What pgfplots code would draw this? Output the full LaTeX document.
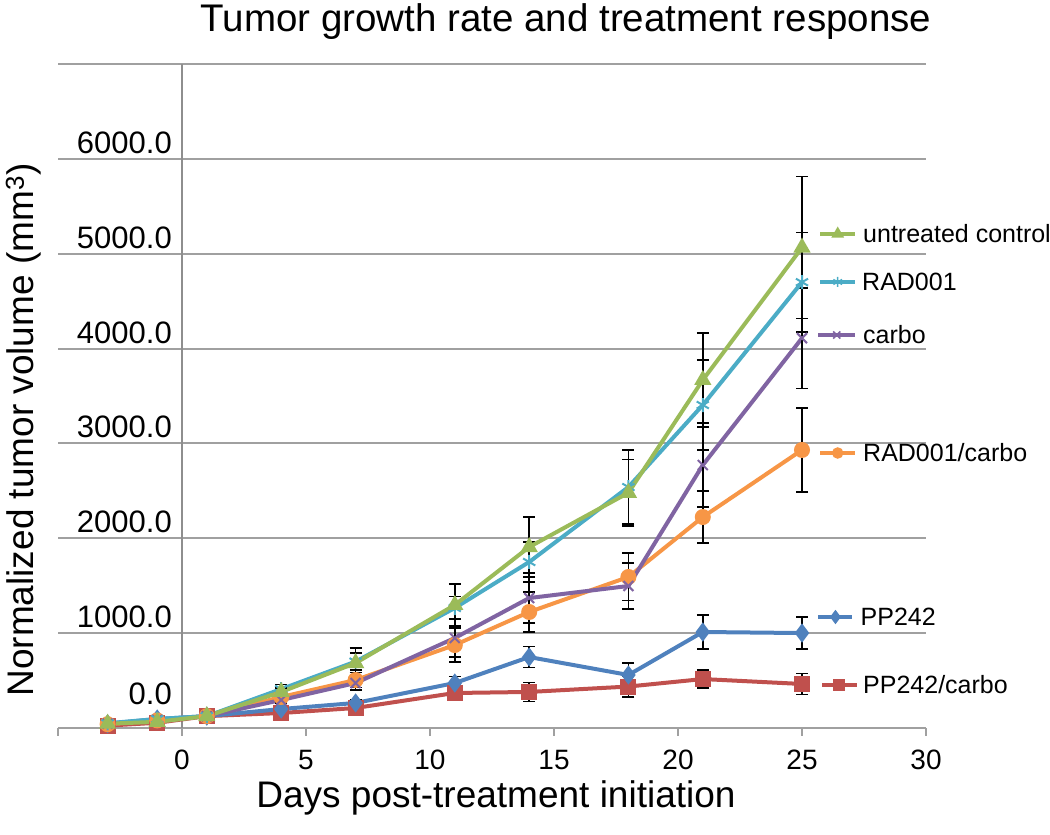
\documentclass[border=0pt]{standalone}
\usepackage{fontspec}
\setmainfont{Liberation Sans}
\usepackage{pgfplots}
\pgfplotsset{compat=1.18}
\usepackage{pgfplotstable}
\definecolor{cgreen}{HTML}{9BBB59}
\definecolor{cteal}{HTML}{4BACC6}
\definecolor{cpurple}{HTML}{8064A2}
\definecolor{corange}{HTML}{F79646}
\definecolor{cblue}{HTML}{4F81BD}
\definecolor{cred}{HTML}{C0504D}
\definecolor{gridgray}{HTML}{A0A0A0}
\definecolor{axgray}{HTML}{8E8E8E}

\pgfplotstableread[row sep=\\]{
x g ge t te c ce o oe b be r re\\
-3 45 20 50 20 45 15 40 15 45 15 25 15\\
-1 65 20 95 20 85 15 80 15 95 15 55 15\\
1 125 15 125 15 125 10 125 10 125 10 125 10\\
4 380 40 410 50 295 30 327 30 200 25 158 20\\
7 685 160 700 90 474 75 506 80 264 30 211 30\\
11 1297 220 1265 120 949 200 875 180 474 70 369 50\\
14 1908 316 1750 210 1370 265 1223 210 748 110 380 100\\
18 2480 350 2540 390 1497 240 1592 250 559 125 437 110\\
21 3669 495 3405 475 2772 443 2224 275 1012 180 516 95\\
25 5065 750 4700 525 4110 530 2931 440 1001 170 464 110\\
}\datatable

\pgfplotsset{
  eb/.style={error bars/.cd, y dir=both, y explicit,
    error bar style={black, line width=1.6pt, solid},
    error mark options={rotate=90, black, mark size=6pt, line width=1.6pt}},
  ser/.style={color=#1, line width=4pt, mark options={solid, fill=#1, draw=#1, line width=2pt}},
  leg/.style={color=#1, line width=4pt, mark indices={2}, forget plot, mark options={solid, fill=#1, draw=#1, line width=1.5pt}},
}

\begin{document}
\begin{tikzpicture}
\path[use as bounding box] (0,0) rectangle (1050pt,835pt);
\begin{axis}[
  at={(58pt,107pt)}, anchor=south west, scale only axis,
  width=868pt, height=664pt,
  xmin=-5, xmax=30, ymin=0, ymax=7000,
  axis x line=bottom, axis y line=left,
  x axis line style={-, draw=gridgray, line width=2pt},
  y axis line style={-, draw=none},
  xtick={-5,0,5,10,15,20,25,30}, xticklabels={{},0,5,10,15,20,25,30},
  extra x ticks={0}, extra x tick labels={},
  extra x tick style={grid=major, major grid style={draw=axgray, line width=2pt}, tick style={draw=none}},
  ytick={0,1000,2000,3000,4000,5000,6000,7000},
  yticklabels={\raisebox{18pt}{0.0},1000.0,2000.0,3000.0,4000.0,5000.0,6000.0,{}},
  ymajorgrids, grid style={draw=gridgray, line width=2pt},
  tick align=outside, major tick length=8pt,
  xtick style={draw=gridgray, line width=2pt},
  ytick style={draw=none},
  xticklabel style={font=\fontsize{28}{30}\selectfont, anchor=north, inner sep=0pt, yshift=-14pt},
  yticklabel style={font=\fontsize{31}{33}\selectfont, anchor=south east, inner sep=0pt, xshift=122pt, yshift=5pt},
  /pgf/number format/assume math mode=true,
  clip=false,
]
\addplot[ser=cred, mark=square*, mark size=7pt, eb] table[x=x, y=r, y error=re] {\datatable};
\addplot[ser=cblue, mark=diamond*, mark size=8pt, eb] table[x=x, y=b, y error=be] {\datatable};
\addplot[ser=corange, mark=*, mark size=7pt, eb] table[x=x, y=o, y error=oe] {\datatable};
\addplot[ser=cpurple, mark=x, mark size=7pt, eb] table[x=x, y=c, y error=ce] {\datatable};
\addplot[ser=cteal, mark=asterisk, mark size=7pt, eb] table[x=x, y=t, y error=te] {\datatable};
\addplot[ser=cgreen, mark=triangle*, mark size=8pt, eb] table[x=x, y=g, y error=ge] {\datatable};

% series labels at the right
\addplot[leg=cgreen, mark=triangle*, mark size=6pt] coordinates {(25.73,5208) (26.44,5208) (27.14,5208)};
\addplot[leg=cteal, mark=asterisk, mark size=5pt] coordinates {(25.73,4702) (26.44,4702) (27.14,4702)};
\addplot[leg=cpurple, mark=x, mark size=5pt] coordinates {(25.65,4143) (26.4,4143) (27.14,4143)};
\addplot[leg=corange, mark=*, mark size=5pt] coordinates {(25.73,2899) (26.44,2899) (27.14,2899)};
\addplot[leg=cblue, mark=diamond*, mark size=6pt] coordinates {(25.65,1170) (26.35,1170) (27.0,1170)};
\addplot[leg=cred, mark=square*, mark size=5pt] coordinates {(25.81,453) (26.5,453) (27.2,453)};

\begin{scope}[every node/.style={anchor=west, inner sep=0pt, font=\fontsize{25}{27}\selectfont}]
\node at (axis cs:27.46,5208) {untreated control};
\node at (axis cs:27.42,4702) {RAD001};
\node at (axis cs:27.46,4143) {carbo};
\node at (axis cs:27.46,2899) {RAD001/carbo};
\node at (axis cs:27.36,1170) {PP242};
\node at (axis cs:27.46,453) {PP242/carbo};
\end{scope}
\end{axis}
\node[anchor=base, font=\fontsize{38.5}{41}\selectfont] at (566pt,803pt) {Tumor growth rate and treatment response};
\node[anchor=base, font=\fontsize{37}{40}\selectfont] at (496pt,27pt) {Days post-treatment initiation};
\node[anchor=base, rotate=90, font=\fontsize{37}{40}\selectfont] at (33pt,405pt) {Normalized tumor volume (mm\textsuperscript{3})};
\end{tikzpicture}
\end{document}
